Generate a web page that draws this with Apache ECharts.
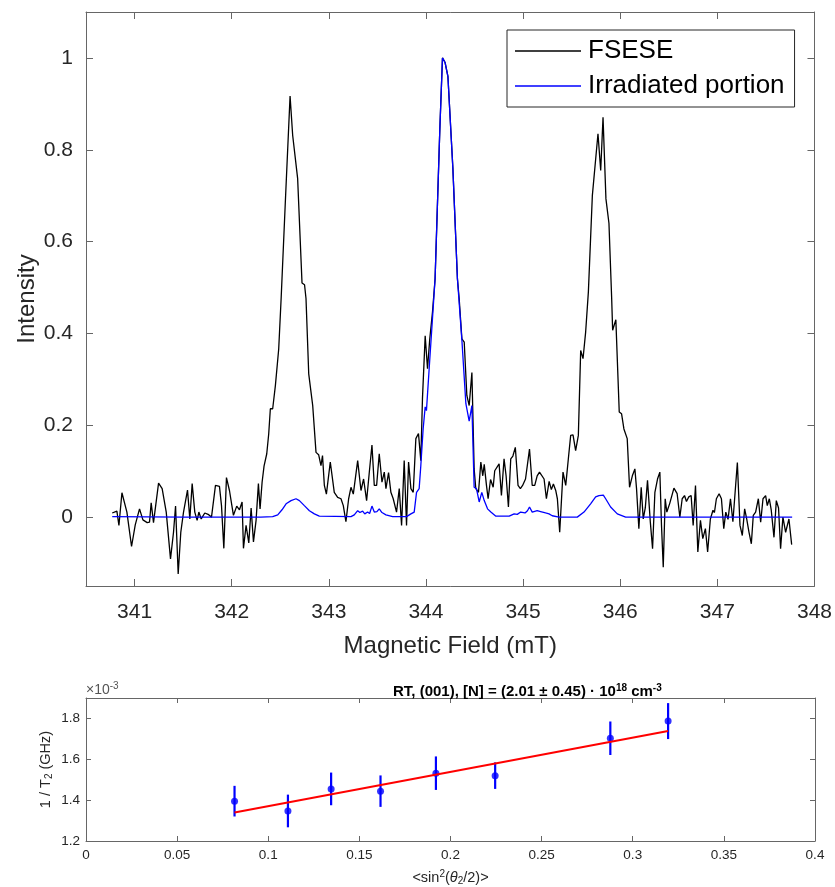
<!DOCTYPE html>
<html>
<head>
<meta charset="utf-8">
<script src="https://cdn.jsdelivr.net/npm/echarts@6/dist/echarts.min.js"></script>
<style>
html,body{margin:0;padding:0;background:#fff;}
#chart{width:835px;height:887px;}
</style>
</head>
<body>
<div id="chart"></div>
<script>
// ---- Top panel: spectrum ----
const fieldFSESE = [
340.770,340.818,340.839,340.870,340.921,340.969,341.007,341.051,341.086,341.130,
341.154,341.171,341.195,341.247,341.284,341.326,341.370,341.401,341.422,341.449,
341.476,341.504,341.545,341.569,341.593,341.620,341.644,341.662,341.686,341.723,
341.757,341.792,341.833,341.874,341.895,341.919,341.946,341.977,342.018,342.052,
342.080,342.107,342.121,342.148,342.176,342.200,342.224,342.251,342.275,342.292,
342.313,342.333,342.361,342.381,342.398,342.422,342.450,342.484,342.509,342.555,
342.601,342.628,342.679,342.724,342.750,342.765,342.793,342.834,342.868,342.895,
342.919,342.935,342.954,342.975,343.015,343.056,343.091,343.125,343.149,343.176,
343.204,343.228,343.252,343.297,343.331,343.358,343.389,343.415,343.444,343.468,
343.492,343.519,343.547,343.571,343.588,343.615,343.639,343.663,343.697,343.725,
343.749,343.776,343.800,343.821,343.845,343.869,343.896,343.923,343.947,343.964,
343.992,344.016,344.039,344.067,344.094,344.143,344.170,344.197,344.226,344.277,
344.324,344.342,344.370,344.394,344.421,344.445,344.473,344.496,344.513,344.541,
344.565,344.585,344.600,344.623,344.640,344.665,344.692,344.708,344.753,344.777,
344.804,344.825,344.849,344.873,344.895,344.920,344.948,344.972,344.995,345.025,
345.066,345.094,345.120,345.145,345.169,345.216,345.240,345.268,345.291,345.312,
345.336,345.353,345.377,345.411,345.439,345.466,345.490,345.514,345.541,345.569,
345.593,345.617,345.644,345.672,345.713,345.771,345.799,345.823,345.853,345.884,
345.912,345.922,345.955,345.990,346.014,346.038,346.072,346.096,346.125,346.151,
346.168,346.192,346.216,346.237,346.258,346.281,346.310,346.333,346.357,346.384,
346.408,346.425,346.443,346.463,346.480,346.510,346.553,346.586,346.614,346.638,
346.662,346.682,346.706,346.730,346.751,346.775,346.799,346.826,346.850,346.877,
346.900,346.928,346.955,346.970,346.990,347.018,347.042,347.066,347.087,347.110,
347.135,347.160,347.206,347.233,347.257,347.281,347.302,347.326,347.350,347.370,
347.394,347.422,347.446,347.470,347.497,347.514,347.535,347.555,347.583,347.607,
347.630,347.651,347.675,347.703,347.737,347.765
];
const intensityFSESE = [
0.009,0.013,-0.018,0.053,0.011,-0.064,-0.017,0.018,-0.006,-0.012,
-0.011,0.031,-0.012,0.074,0.062,0.011,-0.091,-0.033,0.024,-0.124,
-0.033,0.011,0.059,-0.004,0.073,0.011,-0.007,0.011,-0.004,0.009,
0.006,0.000,0.069,0.067,0.025,-0.068,0.086,0.058,0.004,0.024,
0.016,0.033,-0.068,-0.018,-0.056,0.020,-0.054,-0.007,0.073,0.018,
0.076,0.111,0.138,0.181,0.236,0.236,0.287,0.366,0.476,0.700,
0.917,0.831,0.737,0.510,0.506,0.476,0.312,0.243,0.141,0.136,
0.112,0.134,0.069,0.050,0.120,0.054,0.043,0.040,0.025,-0.010,
0.040,0.065,0.050,0.123,0.058,0.083,0.036,0.094,0.157,0.069,
0.069,0.138,0.076,0.098,0.062,0.097,0.054,0.040,0.011,0.062,
-0.018,0.123,-0.018,0.120,0.062,0.054,0.171,0.182,0.123,0.258,
0.395,0.323,0.388,0.446,0.519,0.846,1.000,0.990,0.960,0.760,
0.519,0.476,0.388,0.381,0.265,0.243,0.315,0.105,0.062,0.054,
0.120,0.090,0.115,0.069,0.040,0.082,0.065,0.101,0.116,0.047,
0.127,0.090,0.022,0.127,0.133,0.152,0.069,0.062,0.069,0.083,
0.148,0.069,0.069,0.090,0.098,0.083,0.040,0.078,0.060,0.072,
0.058,0.040,-0.033,0.098,0.069,0.127,0.178,0.179,0.145,0.178,
0.363,0.345,0.403,0.490,0.700,0.835,0.755,0.871,0.693,0.640,
0.476,0.407,0.430,0.229,0.225,0.192,0.171,0.065,0.090,0.105,
0.062,-0.025,0.065,-0.004,0.020,0.080,-0.011,-0.069,0.054,0.083,
0.098,-0.018,-0.109,0.040,0.011,0.030,0.063,0.051,0.000,0.040,
0.047,0.034,0.044,0.047,-0.018,0.069,-0.076,-0.007,-0.047,-0.025,
-0.076,-0.004,0.015,0.010,0.040,0.051,0.040,-0.025,0.011,-0.005,
0.040,-0.010,0.119,-0.018,-0.040,0.018,-0.004,-0.033,-0.058,0.004,
0.011,0.040,-0.011,0.040,0.047,0.025,0.040,0.015,-0.044,0.036,
0.020,-0.069,0.000,-0.033,-0.004,-0.060
];
const fieldIrr = [
340.770,341.500,342.300,342.422,342.474,342.518,342.560,342.611,342.662,342.697,
342.748,342.800,342.851,342.902,343.228,343.262,343.297,343.320,343.348,343.370,
343.399,343.420,343.444,343.468,343.495,343.519,343.547,343.588,343.657,343.800,
343.845,343.879,343.903,343.930,343.947,343.971,343.992,344.005,344.033,344.067,
344.094,344.143,344.170,344.197,344.226,344.277,344.324,344.370,344.411,344.445,
344.473,344.496,344.520,344.548,344.575,344.600,344.634,344.668,344.720,344.857,
344.908,344.940,344.975,345.020,345.045,345.066,345.094,345.145,345.180,345.232,
345.267,345.300,345.370,345.558,345.627,345.695,345.747,345.781,345.800,345.826,
345.850,345.901,345.970,346.056,347.000,347.770
];
const intensityIrr = [
0.001,0.000,0.000,0.001,0.005,0.016,0.029,0.036,0.040,0.036,
0.025,0.014,0.007,0.002,0.001,0.005,0.014,0.010,0.013,0.007,
0.011,0.008,0.024,0.011,0.012,0.018,0.010,0.005,0.001,0.001,
0.007,0.011,0.054,0.062,0.112,0.192,0.240,0.232,0.323,0.432,
0.519,0.846,1.000,0.990,0.960,0.760,0.519,0.385,0.247,0.209,
0.243,0.065,0.062,0.033,0.054,0.036,0.018,0.011,0.002,0.002,
0.007,0.006,0.011,0.009,0.014,0.022,0.011,0.014,0.012,0.009,
0.007,0.003,0.000,0.000,0.011,0.029,0.044,0.047,0.044,0.048,
0.040,0.022,0.007,0.000,0.000,0.000
];
const fieldTicks = [341,342,343,344,345,346,347,348];
const intensityTicks = [0,0.2,0.4,0.6,0.8,1];

// ---- Bottom panel: 1/T2 vs <sin^2(theta/2)> ----
const sinSq = [0.0815,0.1108,0.1345,0.1616,0.1920,0.2245,0.2877,0.3194];
const rate = [1.395,1.347,1.455,1.444,1.532,1.520,1.703,1.787];
const rateErr = [0.075,0.080,0.080,0.077,0.082,0.065,0.082,0.088];
const fitX = [0.0815,0.3194];
const fitY = [1.339,1.738];
const sinTicks = [0,0.05,0.1,0.15,0.2,0.25,0.3,0.35,0.4];
const rateTicks = [1.2,1.4,1.6,1.8];

const FONT = 'Liberation Sans, Arial, Helvetica, sans-serif';
const AX = '#666666';
const TXT = '#262626';

function axisCommon(ticks, len, show, fs, margin){
  return {
    axisLine:{show:true, onZero:false, lineStyle:{color:AX, width:1}},
    axisTick:{show:true, inside:true, length:len, customValues:ticks, lineStyle:{color:AX, width:1}},
    axisLabel:{show:show, customValues:ticks, color:TXT, fontSize:fs, fontFamily:FONT, margin:margin},
    splitLine:{show:false}
  };
}

const chart = echarts.init(document.getElementById('chart'), null, {renderer:'canvas'});
const option = {
  animation:false,
  backgroundColor:'#fff',
  grid:[
    {left:86, top:12, width:729, height:574},
    {left:86, top:698, width:729, height:144}
  ],
  title:{
    text:'RT, (001), [N] = (2.01 ± 0.45) · 10{sup|18} cm{sup|-3}',
    left:388, top:678,
    textStyle:{
      fontSize:15, fontWeight:'bold', color:'#000', fontFamily:FONT,
      rich:{sup:{fontSize:10, fontWeight:'bold', color:'#000', fontFamily:FONT, padding:[0,0,8,0]}}
    }
  },
  graphic:[
    {type:'text', left:86, top:681, style:{
      text:'×10{sup|-3}', fill:'#555', font:'14px '+FONT,
      rich:{sup:{fontSize:10, fill:'#555', fontFamily:FONT, padding:[0,0,8,0]}}
    }}
  ],
  legend:{
    data:['FSESE','Irradiated portion'],
    orient:'vertical', left:507, top:30,
    padding:[8,10,8,8], itemGap:9,
    itemWidth:66, itemHeight:1.5, icon:'rect',
    borderColor:'#262626', borderWidth:1, backgroundColor:'#fff',
    textStyle:{fontSize:26, color:'#000', fontFamily:FONT, padding:[0,0,0,2]}
  },
  xAxis:[
    Object.assign({gridIndex:0, type:'value', min:340.5, max:348, position:'bottom',
      name:'Magnetic Field (mT)', nameLocation:'middle', nameGap:48, nameMoveOverlap:false,
      nameTextStyle:{fontSize:24, color:TXT, fontFamily:FONT}}, axisCommon(fieldTicks,7,true,21,16)),
    Object.assign({gridIndex:0, type:'value', min:340.5, max:348, position:'top'}, axisCommon(fieldTicks,7,false,21,8)),
    Object.assign({gridIndex:1, type:'value', min:0, max:0.4, position:'bottom',
      name:'<sin{sup|2}({it|θ}{sub|2}/2)>', nameLocation:'middle', nameGap:28, nameMoveOverlap:false,
      nameTextStyle:{fontSize:14.5, color:TXT, fontFamily:FONT,
        rich:{sup:{fontSize:10, color:TXT, fontFamily:FONT, padding:[0,0,7,0]},
              sub:{fontSize:10, color:TXT, fontFamily:FONT, padding:[7,0,0,0]},
              it:{fontSize:14.5, fontStyle:'italic', color:TXT, fontFamily:FONT}}}}, axisCommon(sinTicks,5,true,13.5,7)),
    Object.assign({gridIndex:1, type:'value', min:0, max:0.4, position:'top'}, axisCommon(sinTicks,5,false,13,7))
  ],
  yAxis:[
    Object.assign({gridIndex:0, type:'value', min:-0.15, max:1.1, position:'left',
      name:'Intensity', nameLocation:'middle', nameGap:47, nameMoveOverlap:false,
      nameTextStyle:{fontSize:24, color:TXT, fontFamily:FONT}}, axisCommon(intensityTicks,7,true,21,13)),
    Object.assign({gridIndex:0, type:'value', min:-0.15, max:1.1, position:'right'}, axisCommon(intensityTicks,7,false,21,8)),
    Object.assign({gridIndex:1, type:'value', min:1.2, max:1.9, position:'left',
      name:'1 / T{sub|2} (GHz)', nameLocation:'middle', nameGap:32, nameMoveOverlap:false,
      nameTextStyle:{fontSize:14.5, color:TXT, fontFamily:FONT,
        rich:{sub:{fontSize:10, color:TXT, fontFamily:FONT, padding:[7,0,0,0]}}}}, axisCommon(rateTicks,5,true,13.5,6)),
    Object.assign({gridIndex:1, type:'value', min:1.2, max:1.9, position:'right'}, axisCommon(rateTicks,5,false,13,6))
  ],
  series:[
    {name:'FSESE', type:'line', xAxisIndex:0, yAxisIndex:0, showSymbol:false, symbol:'none',
     color:'#000000', lineStyle:{width:1.3, color:'#000000'},
     data:fieldFSESE.map((x,i)=>[x,intensityFSESE[i]])},
    {name:'Irradiated portion', type:'line', xAxisIndex:0, yAxisIndex:0, showSymbol:false, symbol:'none',
     color:'#0000ff', lineStyle:{width:1.3, color:'#0000ff'},
     data:fieldIrr.map((x,i)=>[x,intensityIrr[i]])},
    {name:'fit', type:'line', xAxisIndex:2, yAxisIndex:2, showSymbol:false, symbol:'none',
     lineStyle:{width:2, color:'#ff0000'}, color:'#ff0000',
     data:fitX.map((x,i)=>[x,fitY[i]])},
    {name:'err', type:'custom', xAxisIndex:2, yAxisIndex:2,
     data:sinSq.map((x,i)=>[x,rate[i]-rateErr[i],rate[i]+rateErr[i]]),
     renderItem:function(params, api){
       const lo = api.coord([api.value(0), api.value(1)]);
       const hi = api.coord([api.value(0), api.value(2)]);
       return {type:'line', shape:{x1:lo[0], y1:lo[1], x2:hi[0], y2:hi[1]},
               style:{stroke:'#0000ff', lineWidth:2.2}};
     }},
    {name:'pts', type:'scatter', xAxisIndex:2, yAxisIndex:2, symbol:'circle', symbolSize:7,
     itemStyle:{color:'#0000ff'}, data:sinSq.map((x,i)=>[x,rate[i]])}
  ]
};
chart.setOption(option);
</script>
</body>
</html>
